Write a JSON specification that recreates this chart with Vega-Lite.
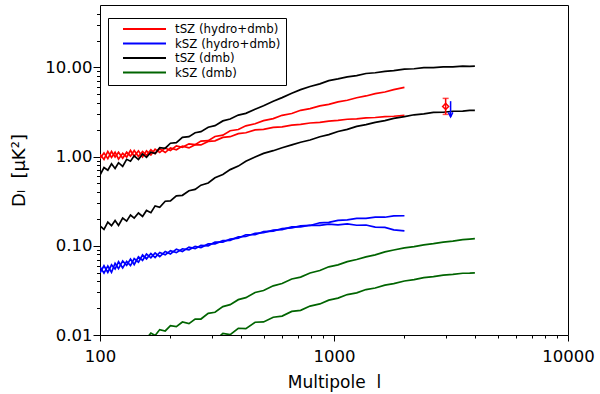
{
  "$schema": "https://vega.github.io/schema/vega-lite/v6.json",
  "width": 468,
  "height": 330,
  "autosize": "none",
  "padding": {"left": 100, "top": 5, "right": 32, "bottom": 59},
  "background": "white",
  "config": {
    "view": {"stroke": "black", "strokeWidth": 1},
    "axis": {
      "grid": false, "domain": false, "ticks": true, "tickColor": "#000000", "tickOpacity": 1, "tickWidth": 1, "zindex": 1,
      "labelFont": "DejaVu Sans", "labelColor": "black", "labelFontSize": 16.5,
      "titleFont": "DejaVu Sans", "titleColor": "black", "titleFontSize": 17, "titleFontWeight": "normal",
      "labelOverlap": false, "labelFlush": false, "labelBound": false
    }
  },
  "datasets": {
    "curves": [
      {"s":"tSZ (hydro+dmb)","c":"a","l":100,"d":1.06},{"s":"tSZ (hydro+dmb)","c":"a","l":104,"d":0.929},{"s":"tSZ (hydro+dmb)","c":"a","l":108,"d":1.14},{"s":"tSZ (hydro+dmb)","c":"a","l":112,"d":0.979},{"s":"tSZ (hydro+dmb)","c":"a","l":116,"d":1.12},{"s":"tSZ (hydro+dmb)","c":"a","l":120,"d":0.936},{"s":"tSZ (hydro+dmb)","c":"a","l":125,"d":1.09},{"s":"tSZ (hydro+dmb)","c":"a","l":130,"d":0.986},{"s":"tSZ (hydro+dmb)","c":"a","l":135,"d":1.17},{"s":"tSZ (hydro+dmb)","c":"a","l":140,"d":1.01},{"s":"tSZ (hydro+dmb)","c":"a","l":146,"d":1.16},{"s":"tSZ (hydro+dmb)","c":"a","l":152,"d":0.992},{"s":"tSZ (hydro+dmb)","c":"a","l":158,"d":1.16},{"s":"tSZ (hydro+dmb)","c":"a","l":165,"d":1.04},{"s":"tSZ (hydro+dmb)","c":"a","l":172,"d":1.21},{"s":"tSZ (hydro+dmb)","c":"a","l":180,"d":1.11},{"s":"tSZ (hydro+dmb)","c":"a","l":190,"d":1.25},{"s":"tSZ (hydro+dmb)","c":"a","l":200,"d":1.17},{"s":"tSZ (hydro+dmb)","c":"a","l":212,"d":1.32},{"s":"tSZ (hydro+dmb)","c":"a","l":225,"d":1.27},{"s":"tSZ (hydro+dmb)","c":"a","l":240,"d":1.39},{"s":"tSZ (hydro+dmb)","c":"a","l":255,"d":1.36},{"s":"tSZ (hydro+dmb)","c":"a","l":270,"d":1.49},{"s":"tSZ (hydro+dmb)","c":"a","l":290,"d":1.51},{"s":"tSZ (hydro+dmb)","c":"a","l":310,"d":1.68},{"s":"tSZ (hydro+dmb)","c":"a","l":335,"d":1.74},{"s":"tSZ (hydro+dmb)","c":"a","l":360,"d":1.95},{"s":"tSZ (hydro+dmb)","c":"a","l":390,"d":2.01},{"s":"tSZ (hydro+dmb)","c":"a","l":420,"d":2.21},{"s":"tSZ (hydro+dmb)","c":"a","l":460,"d":2.33},{"s":"tSZ (hydro+dmb)","c":"a","l":500,"d":2.53},{"s":"tSZ (hydro+dmb)","c":"a","l":550,"d":2.66},{"s":"tSZ (hydro+dmb)","c":"a","l":600,"d":2.90},{"s":"tSZ (hydro+dmb)","c":"a","l":660,"d":3.04},{"s":"tSZ (hydro+dmb)","c":"a","l":720,"d":3.30},{"s":"tSZ (hydro+dmb)","c":"a","l":790,"d":3.45},{"s":"tSZ (hydro+dmb)","c":"a","l":870,"d":3.70},{"s":"tSZ (hydro+dmb)","c":"a","l":950,"d":3.85},{"s":"tSZ (hydro+dmb)","c":"a","l":1040,"d":4.10},{"s":"tSZ (hydro+dmb)","c":"a","l":1140,"d":4.28},{"s":"tSZ (hydro+dmb)","c":"a","l":1250,"d":4.56},{"s":"tSZ (hydro+dmb)","c":"a","l":1370,"d":4.78},{"s":"tSZ (hydro+dmb)","c":"a","l":1500,"d":5.07},{"s":"tSZ (hydro+dmb)","c":"a","l":1650,"d":5.29},{"s":"tSZ (hydro+dmb)","c":"a","l":1800,"d":5.62},{"s":"tSZ (hydro+dmb)","c":"a","l":2000,"d":5.96},
      {"s":"tSZ (hydro+dmb)","c":"b","l":100,"d":0.95},{"s":"tSZ (hydro+dmb)","c":"b","l":104,"d":1.10},{"s":"tSZ (hydro+dmb)","c":"b","l":108,"d":0.949},{"s":"tSZ (hydro+dmb)","c":"b","l":112,"d":1.14},{"s":"tSZ (hydro+dmb)","c":"b","l":116,"d":0.989},{"s":"tSZ (hydro+dmb)","c":"b","l":120,"d":1.12},{"s":"tSZ (hydro+dmb)","c":"b","l":125,"d":0.956},{"s":"tSZ (hydro+dmb)","c":"b","l":130,"d":1.12},{"s":"tSZ (hydro+dmb)","c":"b","l":135,"d":1.01},{"s":"tSZ (hydro+dmb)","c":"b","l":140,"d":1.17},{"s":"tSZ (hydro+dmb)","c":"b","l":146,"d":1.00},{"s":"tSZ (hydro+dmb)","c":"b","l":152,"d":1.14},{"s":"tSZ (hydro+dmb)","c":"b","l":158,"d":1.03},{"s":"tSZ (hydro+dmb)","c":"b","l":165,"d":1.19},{"s":"tSZ (hydro+dmb)","c":"b","l":172,"d":1.08},{"s":"tSZ (hydro+dmb)","c":"b","l":180,"d":1.22},{"s":"tSZ (hydro+dmb)","c":"b","l":190,"d":1.11},{"s":"tSZ (hydro+dmb)","c":"b","l":200,"d":1.25},{"s":"tSZ (hydro+dmb)","c":"b","l":212,"d":1.19},{"s":"tSZ (hydro+dmb)","c":"b","l":225,"d":1.31},{"s":"tSZ (hydro+dmb)","c":"b","l":240,"d":1.25},{"s":"tSZ (hydro+dmb)","c":"b","l":255,"d":1.36},{"s":"tSZ (hydro+dmb)","c":"b","l":270,"d":1.35},{"s":"tSZ (hydro+dmb)","c":"b","l":290,"d":1.48},{"s":"tSZ (hydro+dmb)","c":"b","l":310,"d":1.50},{"s":"tSZ (hydro+dmb)","c":"b","l":335,"d":1.64},{"s":"tSZ (hydro+dmb)","c":"b","l":360,"d":1.67},{"s":"tSZ (hydro+dmb)","c":"b","l":390,"d":1.81},{"s":"tSZ (hydro+dmb)","c":"b","l":420,"d":1.85},{"s":"tSZ (hydro+dmb)","c":"b","l":460,"d":1.99},{"s":"tSZ (hydro+dmb)","c":"b","l":500,"d":2.02},{"s":"tSZ (hydro+dmb)","c":"b","l":550,"d":2.12},{"s":"tSZ (hydro+dmb)","c":"b","l":600,"d":2.15},{"s":"tSZ (hydro+dmb)","c":"b","l":660,"d":2.25},{"s":"tSZ (hydro+dmb)","c":"b","l":720,"d":2.30},{"s":"tSZ (hydro+dmb)","c":"b","l":790,"d":2.38},{"s":"tSZ (hydro+dmb)","c":"b","l":870,"d":2.42},{"s":"tSZ (hydro+dmb)","c":"b","l":950,"d":2.50},{"s":"tSZ (hydro+dmb)","c":"b","l":1040,"d":2.54},{"s":"tSZ (hydro+dmb)","c":"b","l":1140,"d":2.62},{"s":"tSZ (hydro+dmb)","c":"b","l":1250,"d":2.65},{"s":"tSZ (hydro+dmb)","c":"b","l":1370,"d":2.72},{"s":"tSZ (hydro+dmb)","c":"b","l":1500,"d":2.74},{"s":"tSZ (hydro+dmb)","c":"b","l":1650,"d":2.80},{"s":"tSZ (hydro+dmb)","c":"b","l":1800,"d":2.83},{"s":"tSZ (hydro+dmb)","c":"b","l":2000,"d":2.89},
      {"s":"kSZ (hydro+dmb)","c":"a","l":100,"d":0.058},{"s":"kSZ (hydro+dmb)","c":"a","l":104,"d":0.0494},{"s":"kSZ (hydro+dmb)","c":"a","l":108,"d":0.0594},{"s":"kSZ (hydro+dmb)","c":"a","l":112,"d":0.0503},{"s":"kSZ (hydro+dmb)","c":"a","l":116,"d":0.0637},{"s":"kSZ (hydro+dmb)","c":"a","l":120,"d":0.0554},{"s":"kSZ (hydro+dmb)","c":"a","l":125,"d":0.0677},{"s":"kSZ (hydro+dmb)","c":"a","l":130,"d":0.0604},{"s":"kSZ (hydro+dmb)","c":"a","l":135,"d":0.0711},{"s":"kSZ (hydro+dmb)","c":"a","l":140,"d":0.0617},{"s":"kSZ (hydro+dmb)","c":"a","l":146,"d":0.0754},{"s":"kSZ (hydro+dmb)","c":"a","l":152,"d":0.0687},{"s":"kSZ (hydro+dmb)","c":"a","l":158,"d":0.081},{"s":"kSZ (hydro+dmb)","c":"a","l":165,"d":0.0733},{"s":"kSZ (hydro+dmb)","c":"a","l":172,"d":0.0833},{"s":"kSZ (hydro+dmb)","c":"a","l":180,"d":0.0754},{"s":"kSZ (hydro+dmb)","c":"a","l":190,"d":0.0865},{"s":"kSZ (hydro+dmb)","c":"a","l":200,"d":0.0811},{"s":"kSZ (hydro+dmb)","c":"a","l":212,"d":0.0916},{"s":"kSZ (hydro+dmb)","c":"a","l":225,"d":0.0863},{"s":"kSZ (hydro+dmb)","c":"a","l":240,"d":0.0967},{"s":"kSZ (hydro+dmb)","c":"a","l":255,"d":0.0928},{"s":"kSZ (hydro+dmb)","c":"a","l":270,"d":0.101},{"s":"kSZ (hydro+dmb)","c":"a","l":290,"d":0.0999},{"s":"kSZ (hydro+dmb)","c":"a","l":310,"d":0.110},{"s":"kSZ (hydro+dmb)","c":"a","l":335,"d":0.110},{"s":"kSZ (hydro+dmb)","c":"a","l":360,"d":0.119},{"s":"kSZ (hydro+dmb)","c":"a","l":390,"d":0.122},{"s":"kSZ (hydro+dmb)","c":"a","l":420,"d":0.133},{"s":"kSZ (hydro+dmb)","c":"a","l":460,"d":0.133},{"s":"kSZ (hydro+dmb)","c":"a","l":500,"d":0.144},{"s":"kSZ (hydro+dmb)","c":"a","l":550,"d":0.146},{"s":"kSZ (hydro+dmb)","c":"a","l":600,"d":0.156},{"s":"kSZ (hydro+dmb)","c":"a","l":660,"d":0.159},{"s":"kSZ (hydro+dmb)","c":"a","l":720,"d":0.167},{"s":"kSZ (hydro+dmb)","c":"a","l":790,"d":0.169},{"s":"kSZ (hydro+dmb)","c":"a","l":870,"d":0.181},{"s":"kSZ (hydro+dmb)","c":"a","l":950,"d":0.183},{"s":"kSZ (hydro+dmb)","c":"a","l":1040,"d":0.193},{"s":"kSZ (hydro+dmb)","c":"a","l":1140,"d":0.195},{"s":"kSZ (hydro+dmb)","c":"a","l":1250,"d":0.203},{"s":"kSZ (hydro+dmb)","c":"a","l":1370,"d":0.203},{"s":"kSZ (hydro+dmb)","c":"a","l":1500,"d":0.210},{"s":"kSZ (hydro+dmb)","c":"a","l":1650,"d":0.209},{"s":"kSZ (hydro+dmb)","c":"a","l":1800,"d":0.216},{"s":"kSZ (hydro+dmb)","c":"a","l":2000,"d":0.217},
      {"s":"kSZ (hydro+dmb)","c":"b","l":100,"d":0.0499},{"s":"kSZ (hydro+dmb)","c":"b","l":104,"d":0.0598},{"s":"kSZ (hydro+dmb)","c":"b","l":108,"d":0.0504},{"s":"kSZ (hydro+dmb)","c":"b","l":112,"d":0.0612},{"s":"kSZ (hydro+dmb)","c":"b","l":116,"d":0.0549},{"s":"kSZ (hydro+dmb)","c":"b","l":120,"d":0.0662},{"s":"kSZ (hydro+dmb)","c":"b","l":125,"d":0.0566},{"s":"kSZ (hydro+dmb)","c":"b","l":130,"d":0.0668},{"s":"kSZ (hydro+dmb)","c":"b","l":135,"d":0.0599},{"s":"kSZ (hydro+dmb)","c":"b","l":140,"d":0.0719},{"s":"kSZ (hydro+dmb)","c":"b","l":146,"d":0.0656},{"s":"kSZ (hydro+dmb)","c":"b","l":152,"d":0.0789},{"s":"kSZ (hydro+dmb)","c":"b","l":158,"d":0.0713},{"s":"kSZ (hydro+dmb)","c":"b","l":165,"d":0.0818},{"s":"kSZ (hydro+dmb)","c":"b","l":172,"d":0.0739},{"s":"kSZ (hydro+dmb)","c":"b","l":180,"d":0.0842},{"s":"kSZ (hydro+dmb)","c":"b","l":190,"d":0.0791},{"s":"kSZ (hydro+dmb)","c":"b","l":200,"d":0.0879},{"s":"kSZ (hydro+dmb)","c":"b","l":212,"d":0.0837},{"s":"kSZ (hydro+dmb)","c":"b","l":225,"d":0.0926},{"s":"kSZ (hydro+dmb)","c":"b","l":240,"d":0.0902},{"s":"kSZ (hydro+dmb)","c":"b","l":255,"d":0.0986},{"s":"kSZ (hydro+dmb)","c":"b","l":270,"d":0.0955},{"s":"kSZ (hydro+dmb)","c":"b","l":290,"d":0.105},{"s":"kSZ (hydro+dmb)","c":"b","l":310,"d":0.105},{"s":"kSZ (hydro+dmb)","c":"b","l":335,"d":0.114},{"s":"kSZ (hydro+dmb)","c":"b","l":360,"d":0.115},{"s":"kSZ (hydro+dmb)","c":"b","l":390,"d":0.126},{"s":"kSZ (hydro+dmb)","c":"b","l":420,"d":0.127},{"s":"kSZ (hydro+dmb)","c":"b","l":460,"d":0.138},{"s":"kSZ (hydro+dmb)","c":"b","l":500,"d":0.140},{"s":"kSZ (hydro+dmb)","c":"b","l":550,"d":0.150},{"s":"kSZ (hydro+dmb)","c":"b","l":600,"d":0.152},{"s":"kSZ (hydro+dmb)","c":"b","l":660,"d":0.163},{"s":"kSZ (hydro+dmb)","c":"b","l":720,"d":0.163},{"s":"kSZ (hydro+dmb)","c":"b","l":790,"d":0.170},{"s":"kSZ (hydro+dmb)","c":"b","l":870,"d":0.169},{"s":"kSZ (hydro+dmb)","c":"b","l":950,"d":0.175},{"s":"kSZ (hydro+dmb)","c":"b","l":1040,"d":0.172},{"s":"kSZ (hydro+dmb)","c":"b","l":1140,"d":0.176},{"s":"kSZ (hydro+dmb)","c":"b","l":1250,"d":0.170},{"s":"kSZ (hydro+dmb)","c":"b","l":1370,"d":0.171},{"s":"kSZ (hydro+dmb)","c":"b","l":1500,"d":0.162},{"s":"kSZ (hydro+dmb)","c":"b","l":1650,"d":0.161},{"s":"kSZ (hydro+dmb)","c":"b","l":1800,"d":0.151},{"s":"kSZ (hydro+dmb)","c":"b","l":2000,"d":0.147},
      {"s":"tSZ (dmb)","c":"a","l":100,"d":0.620},{"s":"tSZ (dmb)","c":"a","l":104,"d":0.754},{"s":"tSZ (dmb)","c":"a","l":108,"d":0.704},{"s":"tSZ (dmb)","c":"a","l":112,"d":0.831},{"s":"tSZ (dmb)","c":"a","l":116,"d":0.737},{"s":"tSZ (dmb)","c":"a","l":120,"d":0.854},{"s":"tSZ (dmb)","c":"a","l":125,"d":0.777},{"s":"tSZ (dmb)","c":"a","l":130,"d":0.932},{"s":"tSZ (dmb)","c":"a","l":135,"d":0.887},{"s":"tSZ (dmb)","c":"a","l":140,"d":1.02},{"s":"tSZ (dmb)","c":"a","l":146,"d":0.926},{"s":"tSZ (dmb)","c":"a","l":152,"d":1.07},{"s":"tSZ (dmb)","c":"a","l":158,"d":0.982},{"s":"tSZ (dmb)","c":"a","l":165,"d":1.12},{"s":"tSZ (dmb)","c":"a","l":172,"d":1.08},{"s":"tSZ (dmb)","c":"a","l":180,"d":1.26},{"s":"tSZ (dmb)","c":"a","l":190,"d":1.24},{"s":"tSZ (dmb)","c":"a","l":200,"d":1.41},{"s":"tSZ (dmb)","c":"a","l":212,"d":1.43},{"s":"tSZ (dmb)","c":"a","l":225,"d":1.64},{"s":"tSZ (dmb)","c":"a","l":240,"d":1.67},{"s":"tSZ (dmb)","c":"a","l":255,"d":1.85},{"s":"tSZ (dmb)","c":"a","l":270,"d":1.90},{"s":"tSZ (dmb)","c":"a","l":290,"d":2.13},{"s":"tSZ (dmb)","c":"a","l":310,"d":2.22},{"s":"tSZ (dmb)","c":"a","l":335,"d":2.51},{"s":"tSZ (dmb)","c":"a","l":360,"d":2.64},{"s":"tSZ (dmb)","c":"a","l":390,"d":2.92},{"s":"tSZ (dmb)","c":"a","l":420,"d":3.05},{"s":"tSZ (dmb)","c":"a","l":460,"d":3.40},{"s":"tSZ (dmb)","c":"a","l":500,"d":3.72},{"s":"tSZ (dmb)","c":"a","l":550,"d":4.17},{"s":"tSZ (dmb)","c":"a","l":600,"d":4.58},{"s":"tSZ (dmb)","c":"a","l":660,"d":5.13},{"s":"tSZ (dmb)","c":"a","l":720,"d":5.63},{"s":"tSZ (dmb)","c":"a","l":790,"d":6.10},{"s":"tSZ (dmb)","c":"a","l":870,"d":6.53},{"s":"tSZ (dmb)","c":"a","l":950,"d":7.09},{"s":"tSZ (dmb)","c":"a","l":1040,"d":7.42},{"s":"tSZ (dmb)","c":"a","l":1140,"d":7.82},{"s":"tSZ (dmb)","c":"a","l":1250,"d":8.09},{"s":"tSZ (dmb)","c":"a","l":1370,"d":8.53},{"s":"tSZ (dmb)","c":"a","l":1500,"d":8.70},{"s":"tSZ (dmb)","c":"a","l":1650,"d":9.01},{"s":"tSZ (dmb)","c":"a","l":1800,"d":9.20},{"s":"tSZ (dmb)","c":"a","l":2000,"d":9.55},{"s":"tSZ (dmb)","c":"a","l":2200,"d":9.65},{"s":"tSZ (dmb)","c":"a","l":2420,"d":9.92},{"s":"tSZ (dmb)","c":"a","l":2660,"d":9.95},{"s":"tSZ (dmb)","c":"a","l":2930,"d":10.15},{"s":"tSZ (dmb)","c":"a","l":3220,"d":10.15},{"s":"tSZ (dmb)","c":"a","l":3550,"d":10.31},{"s":"tSZ (dmb)","c":"a","l":3800,"d":10.25},{"s":"tSZ (dmb)","c":"a","l":4000,"d":10.32},
      {"s":"tSZ (dmb)","c":"b","l":100,"d":0.167},{"s":"tSZ (dmb)","c":"b","l":104,"d":0.153},{"s":"tSZ (dmb)","c":"b","l":108,"d":0.184},{"s":"tSZ (dmb)","c":"b","l":112,"d":0.168},{"s":"tSZ (dmb)","c":"b","l":116,"d":0.192},{"s":"tSZ (dmb)","c":"b","l":120,"d":0.169},{"s":"tSZ (dmb)","c":"b","l":125,"d":0.205},{"s":"tSZ (dmb)","c":"b","l":130,"d":0.189},{"s":"tSZ (dmb)","c":"b","l":135,"d":0.221},{"s":"tSZ (dmb)","c":"b","l":140,"d":0.204},{"s":"tSZ (dmb)","c":"b","l":146,"d":0.233},{"s":"tSZ (dmb)","c":"b","l":152,"d":0.213},{"s":"tSZ (dmb)","c":"b","l":158,"d":0.249},{"s":"tSZ (dmb)","c":"b","l":165,"d":0.235},{"s":"tSZ (dmb)","c":"b","l":172,"d":0.280},{"s":"tSZ (dmb)","c":"b","l":180,"d":0.270},{"s":"tSZ (dmb)","c":"b","l":190,"d":0.316},{"s":"tSZ (dmb)","c":"b","l":200,"d":0.319},{"s":"tSZ (dmb)","c":"b","l":212,"d":0.363},{"s":"tSZ (dmb)","c":"b","l":225,"d":0.368},{"s":"tSZ (dmb)","c":"b","l":240,"d":0.414},{"s":"tSZ (dmb)","c":"b","l":255,"d":0.428},{"s":"tSZ (dmb)","c":"b","l":270,"d":0.478},{"s":"tSZ (dmb)","c":"b","l":290,"d":0.506},{"s":"tSZ (dmb)","c":"b","l":310,"d":0.578},{"s":"tSZ (dmb)","c":"b","l":335,"d":0.630},{"s":"tSZ (dmb)","c":"b","l":360,"d":0.714},{"s":"tSZ (dmb)","c":"b","l":390,"d":0.782},{"s":"tSZ (dmb)","c":"b","l":420,"d":0.888},{"s":"tSZ (dmb)","c":"b","l":460,"d":0.990},{"s":"tSZ (dmb)","c":"b","l":500,"d":1.085},{"s":"tSZ (dmb)","c":"b","l":550,"d":1.164},{"s":"tSZ (dmb)","c":"b","l":600,"d":1.256},{"s":"tSZ (dmb)","c":"b","l":660,"d":1.353},{"s":"tSZ (dmb)","c":"b","l":720,"d":1.447},{"s":"tSZ (dmb)","c":"b","l":790,"d":1.532},{"s":"tSZ (dmb)","c":"b","l":870,"d":1.668},{"s":"tSZ (dmb)","c":"b","l":950,"d":1.761},{"s":"tSZ (dmb)","c":"b","l":1040,"d":1.909},{"s":"tSZ (dmb)","c":"b","l":1140,"d":2.02},{"s":"tSZ (dmb)","c":"b","l":1250,"d":2.18},{"s":"tSZ (dmb)","c":"b","l":1370,"d":2.28},{"s":"tSZ (dmb)","c":"b","l":1500,"d":2.42},{"s":"tSZ (dmb)","c":"b","l":1650,"d":2.53},{"s":"tSZ (dmb)","c":"b","l":1800,"d":2.68},{"s":"tSZ (dmb)","c":"b","l":2000,"d":2.80},{"s":"tSZ (dmb)","c":"b","l":2200,"d":2.94},{"s":"tSZ (dmb)","c":"b","l":2420,"d":3.01},{"s":"tSZ (dmb)","c":"b","l":2660,"d":3.13},{"s":"tSZ (dmb)","c":"b","l":2930,"d":3.14},{"s":"tSZ (dmb)","c":"b","l":3220,"d":3.22},{"s":"tSZ (dmb)","c":"b","l":3550,"d":3.23},{"s":"tSZ (dmb)","c":"b","l":3800,"d":3.29},{"s":"tSZ (dmb)","c":"b","l":4000,"d":3.29},
      {"s":"kSZ (dmb)","c":"a","l":152,"d":0.00956},{"s":"kSZ (dmb)","c":"a","l":158,"d":0.00912},{"s":"kSZ (dmb)","c":"a","l":165,"d":0.0105},{"s":"kSZ (dmb)","c":"a","l":172,"d":0.00988},{"s":"kSZ (dmb)","c":"a","l":180,"d":0.0115},{"s":"kSZ (dmb)","c":"a","l":190,"d":0.0111},{"s":"kSZ (dmb)","c":"a","l":200,"d":0.0127},{"s":"kSZ (dmb)","c":"a","l":212,"d":0.0124},{"s":"kSZ (dmb)","c":"a","l":225,"d":0.0140},{"s":"kSZ (dmb)","c":"a","l":240,"d":0.0134},{"s":"kSZ (dmb)","c":"a","l":255,"d":0.0151},{"s":"kSZ (dmb)","c":"a","l":270,"d":0.0151},{"s":"kSZ (dmb)","c":"a","l":290,"d":0.0175},{"s":"kSZ (dmb)","c":"a","l":310,"d":0.0180},{"s":"kSZ (dmb)","c":"a","l":335,"d":0.0208},{"s":"kSZ (dmb)","c":"a","l":360,"d":0.0219},{"s":"kSZ (dmb)","c":"a","l":390,"d":0.0249},{"s":"kSZ (dmb)","c":"a","l":420,"d":0.0262},{"s":"kSZ (dmb)","c":"a","l":460,"d":0.0300},{"s":"kSZ (dmb)","c":"a","l":500,"d":0.0315},{"s":"kSZ (dmb)","c":"a","l":550,"d":0.0356},{"s":"kSZ (dmb)","c":"a","l":600,"d":0.0378},{"s":"kSZ (dmb)","c":"a","l":660,"d":0.0424},{"s":"kSZ (dmb)","c":"a","l":720,"d":0.0446},{"s":"kSZ (dmb)","c":"a","l":790,"d":0.0495},{"s":"kSZ (dmb)","c":"a","l":870,"d":0.0528},{"s":"kSZ (dmb)","c":"a","l":950,"d":0.0581},{"s":"kSZ (dmb)","c":"a","l":1040,"d":0.0612},{"s":"kSZ (dmb)","c":"a","l":1140,"d":0.0664},{"s":"kSZ (dmb)","c":"a","l":1250,"d":0.0701},{"s":"kSZ (dmb)","c":"a","l":1370,"d":0.0752},{"s":"kSZ (dmb)","c":"a","l":1500,"d":0.0792},{"s":"kSZ (dmb)","c":"a","l":1650,"d":0.0853},{"s":"kSZ (dmb)","c":"a","l":1800,"d":0.0897},{"s":"kSZ (dmb)","c":"a","l":2000,"d":0.0947},{"s":"kSZ (dmb)","c":"a","l":2200,"d":0.0977},{"s":"kSZ (dmb)","c":"a","l":2420,"d":0.1025},{"s":"kSZ (dmb)","c":"a","l":2660,"d":0.1055},{"s":"kSZ (dmb)","c":"a","l":2930,"d":0.110},{"s":"kSZ (dmb)","c":"a","l":3220,"d":0.113},{"s":"kSZ (dmb)","c":"a","l":3550,"d":0.117},{"s":"kSZ (dmb)","c":"a","l":3800,"d":0.119},{"s":"kSZ (dmb)","c":"a","l":4000,"d":0.120},
      {"s":"kSZ (dmb)","c":"b","l":310,"d":0.0087},{"s":"kSZ (dmb)","c":"b","l":335,"d":0.0104},{"s":"kSZ (dmb)","c":"b","l":360,"d":0.0101},{"s":"kSZ (dmb)","c":"b","l":390,"d":0.0119},{"s":"kSZ (dmb)","c":"b","l":420,"d":0.0118},{"s":"kSZ (dmb)","c":"b","l":460,"d":0.0139},{"s":"kSZ (dmb)","c":"b","l":500,"d":0.0140},{"s":"kSZ (dmb)","c":"b","l":550,"d":0.0158},{"s":"kSZ (dmb)","c":"b","l":600,"d":0.0163},{"s":"kSZ (dmb)","c":"b","l":660,"d":0.0184},{"s":"kSZ (dmb)","c":"b","l":720,"d":0.0189},{"s":"kSZ (dmb)","c":"b","l":790,"d":0.0211},{"s":"kSZ (dmb)","c":"b","l":870,"d":0.0223},{"s":"kSZ (dmb)","c":"b","l":950,"d":0.0246},{"s":"kSZ (dmb)","c":"b","l":1040,"d":0.0259},{"s":"kSZ (dmb)","c":"b","l":1140,"d":0.0284},{"s":"kSZ (dmb)","c":"b","l":1250,"d":0.0297},{"s":"kSZ (dmb)","c":"b","l":1370,"d":0.0323},{"s":"kSZ (dmb)","c":"b","l":1500,"d":0.0336},{"s":"kSZ (dmb)","c":"b","l":1650,"d":0.0362},{"s":"kSZ (dmb)","c":"b","l":1800,"d":0.0377},{"s":"kSZ (dmb)","c":"b","l":2000,"d":0.0403},{"s":"kSZ (dmb)","c":"b","l":2200,"d":0.0417},{"s":"kSZ (dmb)","c":"b","l":2420,"d":0.0439},{"s":"kSZ (dmb)","c":"b","l":2660,"d":0.0451},{"s":"kSZ (dmb)","c":"b","l":2930,"d":0.0469},{"s":"kSZ (dmb)","c":"b","l":3220,"d":0.0478},{"s":"kSZ (dmb)","c":"b","l":3550,"d":0.0492},{"s":"kSZ (dmb)","c":"b","l":3800,"d":0.0494},{"s":"kSZ (dmb)","c":"b","l":4000,"d":0.0497}
    ],
    "tsz_obs": [{"l": 3000, "d": 3.65, "lo": 2.97, "hi": 4.49}],
    "ksz_obs": [{"l": 3150, "top": 4.18, "tip": 2.79}]
  },
  "layer": [
    {
      "data": {"name": "curves"},
      "mark": {"type": "line", "strokeWidth": 1.7, "clip": true},
      "encoding": {
        "x": {"field": "l", "type": "quantitative",
              "scale": {"type": "log", "domain": [100, 10000], "nice": false},
              "axis": {"orient": "bottom", "values": [100, 1000, 10000], "format": "d", "tickSize": 6, "labelPadding": 7,
                       "title": "Multipole\u00a0\u00a0l", "titlePadding": 10}},
        "y": {"field": "d", "type": "quantitative",
              "scale": {"type": "log", "domain": [0.01, 50], "nice": false},
              "axis": {"orient": "left", "values": [0.01, 0.1, 1, 10], "format": ".2f", "tickSize": 7, "labelPadding": 1,
                       "title": "D\u2097\u00a0\u00a0[\u03bcK\u00b2]", "titlePadding": 16, "titleFontSize": 18}},
        "color": {"field": "s", "type": "nominal",
                  "scale": {"domain": ["tSZ (hydro+dmb)", "kSZ (hydro+dmb)", "tSZ (dmb)", "kSZ (dmb)"],
                            "range": ["#ff0000", "#0000ff", "#000000", "#006400"]},
                  "legend": {"orient": "none", "legendX": 8, "legendY": 13, "title": null,
                             "symbolType": "M0.8,0H9.4", "symbolSize": 100, "symbolStrokeWidth": 2,
                             "labelFont": "DejaVu Sans", "labelFontSize": 11.8, "labelColor": "black", "labelOffset": 50,
                             "strokeColor": "black", "fillColor": "white", "padding": 5, "rowPadding": 1.5}},
        "detail": {"field": "c"}
      }
    },
    {
      "data": {"name": "tsz_obs"},
      "mark": {"type": "rule", "color": "#ff0000", "strokeWidth": 1.5},
      "encoding": {
        "x": {"field": "l", "type": "quantitative", "scale": {"type": "log", "domain": [100, 10000], "nice": false},
              "axis": {"orient": "bottom", "values": [200,300,400,500,600,700,800,900,2000,3000,4000,5000,6000,7000,8000,9000], "tickSize": 3, "labels": false, "title": null}},
        "y": {"field": "lo", "type": "quantitative", "scale": {"type": "log", "domain": [0.01, 50], "nice": false},
              "axis": {"orient": "left", "values": [0.02,0.03,0.04,0.05,0.06,0.07,0.08,0.09,0.2,0.3,0.4,0.5,0.6,0.7,0.8,0.9,2,3,4,5,6,7,8,9,20,30,40], "tickSize": 3.5, "labels": false, "title": null}},
        "y2": {"field": "hi"}
      }
    },
    {
      "data": {"name": "tsz_obs"},
      "mark": {"type": "tick", "orient": "horizontal", "color": "#ff0000", "size": 6, "thickness": 1.5},
      "encoding": {
        "x": {"field": "l", "type": "quantitative", "axis": null},
        "y": {"field": "lo", "type": "quantitative", "axis": null}
      }
    },
    {
      "data": {"name": "tsz_obs"},
      "mark": {"type": "tick", "orient": "horizontal", "color": "#ff0000", "size": 6, "thickness": 1.5},
      "encoding": {
        "x": {"field": "l", "type": "quantitative", "axis": null},
        "y": {"field": "hi", "type": "quantitative", "axis": null}
      }
    },
    {
      "data": {"name": "tsz_obs"},
      "mark": {"type": "point", "shape": "diamond", "filled": false, "color": "#ff0000", "size": 36, "strokeWidth": 1.5, "opacity": 1},
      "encoding": {
        "x": {"field": "l", "type": "quantitative", "axis": null},
        "y": {"field": "d", "type": "quantitative", "axis": null}
      }
    },
    {
      "data": {"name": "ksz_obs"},
      "mark": {"type": "rule", "color": "#0000ff", "strokeWidth": 1.5},
      "encoding": {
        "x": {"field": "l", "type": "quantitative", "axis": null},
        "y": {"field": "tip", "type": "quantitative", "axis": null},
        "y2": {"field": "top"}
      }
    },
    {
      "data": {"name": "ksz_obs"},
      "mark": {"type": "point", "shape": "M-1,-2L0,0L1,-2", "filled": false, "color": "#0000ff", "size": 20, "strokeWidth": 1.5, "opacity": 1},
      "encoding": {
        "x": {"field": "l", "type": "quantitative", "axis": null},
        "y": {"field": "tip", "type": "quantitative", "axis": null}
      }
    }
  ],
  "resolve": {"axis": {"x": "independent", "y": "independent"}}
}
